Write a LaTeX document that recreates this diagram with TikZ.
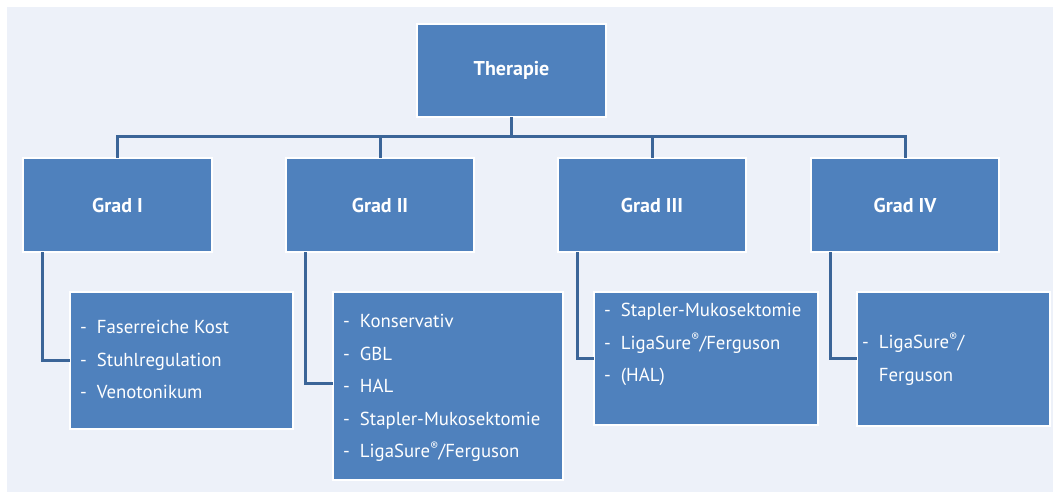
\documentclass[tikz,border=0pt]{standalone}
\usepackage{fontspec}
\setmainfont{PT Sans}
\definecolor{bgc}{HTML}{EDF1F9}
\definecolor{boxc}{HTML}{4F81BD}
\definecolor{linec}{HTML}{3B6598}
\tikzset{
  bx/.style={draw=white, line width=2.5pt, fill=boxc, text=white, anchor=north west, inner sep=0pt, outer sep=0pt},
  hd/.style={text=white, font=\fontsize{20}{24}\selectfont\bfseries},
  lst/.style={text=white, anchor=north west, inner sep=0pt, align=left, font=\fontsize{18.8}{32.5}\selectfont},
  cn/.style={draw=linec, line width=3pt}
}
\newcommand{\regm}{\raisebox{0.4em}{\fontsize{12}{12}\selectfont\textregistered}}
\begin{document}
\begin{tikzpicture}[x=1pt,y=-1pt]
\useasboundingbox (0,0) rectangle (1053,492);
\fill[bgc] (7,7) rectangle (1053,492);
% boxes
\node[bx, minimum width=189pt, minimum height=93pt] (T) at (417,24) {};
\node[hd] (Tt) at (T.center) {Therapie};
\node[bx, minimum width=189pt, minimum height=94pt] (G1) at (23,158) {};
\node[hd] (G1t) at (G1.center) {Grad I};
\node[bx, minimum width=188pt, minimum height=94pt] (G2) at (286,158) {};
\node[hd] (G2t) at (G2.center) {Grad II};
\node[bx, minimum width=188pt, minimum height=94pt] (G3) at (558,158) {};
\node[hd] (G3t) at (G3.center) {Grad III};
\node[bx, minimum width=188pt, minimum height=94pt] (G4) at (811,158) {};
\node[hd] (G4t) at (G4.center) {Grad IV};
\node[bx, minimum width=223pt, minimum height=137pt] (S1) at (70,292) {};
\node[bx, minimum width=230pt, minimum height=188pt] (S2) at (333,292) {};
\node[bx, minimum width=224pt, minimum height=133pt] (S3) at (594,292) {};
\node[bx, minimum width=193pt, minimum height=134pt] (S4) at (857,292) {};
% list texts
\node[lst] (L1) at (80,311) {\begin{tabular}{@{}l@{\hspace{10pt}}l@{}}-&Faserreiche Kost\\-&Stuhlregulation\\-&Venotonikum\end{tabular}};
\node[lst] (L2) at (343,305) {\begin{tabular}{@{}l@{\hspace{10pt}}l@{}}-&Konservativ\\-&GBL\\-&HAL\\-&Stapler-Mukosektomie\\-&LigaSure\regm/Ferguson\end{tabular}};
\node[lst] (L3) at (604,294) {\begin{tabular}{@{}l@{\hspace{10pt}}l@{}}-&Stapler-Mukosektomie\\-&LigaSure\regm/Ferguson\\-&(HAL)\end{tabular}};
\node[lst] (L4) at (862,326) {\begin{tabular}{@{}l@{\hspace{10pt}}l@{}}-&LigaSure\regm/\\&Ferguson\end{tabular}};
% connectors
\coordinate (bus) at (0,137);
\draw[cn] (T.south) -- (T.south |- bus);
\draw[cn] (G1.north) |- (bus -| G4.north) -- (G4.north);
\draw[cn] (G2.north) -- (G2.north |- bus);
\draw[cn] (G3.north) -- (G3.north |- bus);
\draw[cn] ([xshift=19pt]G1.south west) |- (S1.west |- 0,360);
\draw[cn] ([xshift=19pt]G2.south west) |- (S2.west |- 0,383);
\draw[cn] ([xshift=19pt]G3.south west) |- (S3.west |- 0,358);
\draw[cn] ([xshift=19pt]G4.south west) |- (S4.west |- 0,358);
\end{tikzpicture}
\end{document}
